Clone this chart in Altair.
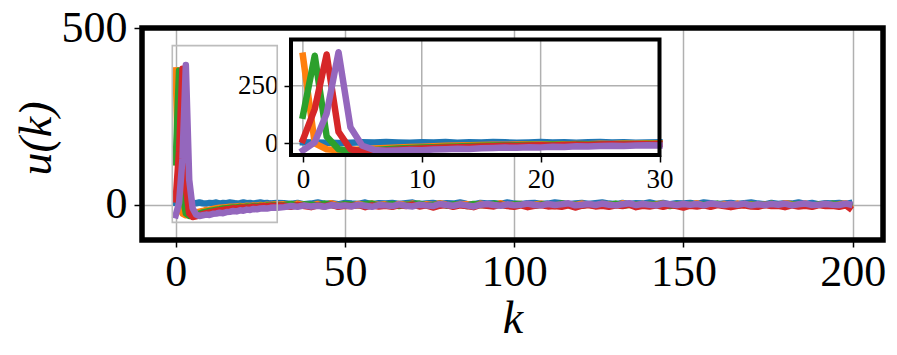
import altair as alt
import pandas as pd

# ---------------- data ----------------
K = list(range(0, 31)) + list(range(32, 199, 2)) + [199]

NAMES = ["blue", "orange", "green", "red", "purple"]
COLORS = ["#1f77b4", "#ff7f0e", "#2ca02c", "#d62728", "#9467bd"]

U_BLUE = [5, 4, 3, 2, 3, 5, 4, 6, 4, 3, 5, 4, 6, 3, 5, 4, 6, 5, 3, 4,
          6, 4, 5, 3, 5, 6, 4, 5, 3, 4, 5,
          4, 2, 5, 1, 3, 6, 2, 4, 1, 5, 3, 2, 6, 1, 4, 3, 5, 2, 4, 6,
          1, 3, 5, 2, 4, 3, 6, 2, 1, 5, 3, 4, 2, 6, 3, 1, 4, 5, 2, 3,
          6, 4, 1, 3, 5, 2, 4, 6, 3, 1, 5, 2, 4, 3, 6, 2, 5, 1, 4, 3,
          5, 2, 6, 4, 1, 3, 5, 2, 4, 6, 3, 1, 5, 2, 4, 3, 6, 2, 5, 1,
          4, 3, 5, 2, 4]
U_ORANGE = [380, 0, -25, -30, -28, -25, -22, -20, -18, -15, -14, -12, -10, -9, -8, -7,
            -6, -6, -5, -4, -5, -3, -4, -2, -3, -1, -2, 0, -1, 1, 0,
            1, -2, 3, 0, -3, 2, -1, 4, -2, 1, -3, 2, 0, 3, -1, 1, -4, 2, 0, 3,
            -2, 1, -1, 4, 0, -3, 2, 1, -2, 3, 0, -1, 4, -3, 1, 2, -2, 0, 3, -1,
            -4, 1, 2, -1, 3, 0, -3, 2, 1, -2, 4, -1, 0, 2, -3, 1, 3, -2, 0, 2,
            -1, 4, -3, 1, 0, 2, -2, 3, -1, 1, -3, 0, 2, -2, 4, 1, -1, 3, -4, 0,
            2, -2, 1, 3, -5]
U_GREEN = [120, 380, 30, -25, -32, -30, -28, -25, -22, -20, -18, -16, -14, -13, -11, -10,
           -9, -8, -8, -6, -7, -5, -6, -4, -5, -3, -4, -2, -3, -1, -2,
           -1, 2, -3, 1, 0, -2, 3, -1, -4, 2, 0, -2, 1, 3, -3, -1, 2, -4, 0, 1,
           3, -2, -1, 2, -3, 1, 0, -4, 2, -1, -2, 3, 0, -3, 1, 2, -1, -3, 1, 0,
           -2, 4, -1, 0, -3, 1, -2, 2, -1, 3, -3, 0, 1, -2, 2, -1, 3, -4, 1, 0,
           2, -3, 0, -1, 3, -2, 1, -3, 2, 0, 1, -1, 3, -2, -4, 0, 2, -1, -3, 1,
           -2, 3, -1, 0, -2]
U_RED = [15, 150, 385, 50, -25, -35, -33, -30, -27, -24, -22, -20, -18, -16, -15, -13,
         -12, -10, -11, -9, -8, -9, -7, -6, -7, -5, -4, -5, -3, -4, -2,
         -3, -6, -1, -4, -7, -2, -5, 0, -6, -3, -4, -1, -7, -2, -5, -3, -6, -1, -4, 0,
         -5, -2, -8, -3, -1, -6, -2, -4, -7, -1, -3, -5, 0, -4, -6, -2, -7, -3, -1, -5,
         -4, -6, -2, -8, -3, -1, -5, -3, -6, -2, -4, 0, -7, -3, -5, -2, -6, -1, -4, -8,
         -3, -5, -2, -6, -1, -4, -7, -3, -2, -5, -6, -1, -4, -3, -7, -2, -5, -3, -6, -1,
         -4, -3, -6, -2, -9]
U_PURPLE = [-30, 5, 130, 395, 70, -10, -28, -32, -30, -28, -29, -26, -25, -23, -24, -21,
            -20, -18, -19, -16, -17, -14, -15, -12, -13, -11, -10, -11, -9, -8, -9,
            -7, -4, -6, -2, -5, -3, -6, -1, -4, -2, -5, 0, -3, -6, -1, -2, -4, 1, -3, -5,
            0, -2, -4, 2, -1, -3, 1, -2, -5, 0, 2, -1, -3, 1, -2, 0, 3, -1, -2, 2,
            -1, 1, 4, -2, 0, 2, -1, 3, 0, -2, 1, 4, -1, 2, 0, -2, 3, 1, -1, 2,
            0, 2, -2, 3, 1, -1, 2, 0, 3, -2, 1, -1, 2, 0, 3, -2, 1, 3, -1, 0,
            2, 0, -1, 3, 1]

SERIES = [U_BLUE, U_ORANGE, U_GREEN, U_RED, U_PURPLE]

XLIM = [-9.95, 208.95]
YLIM = [-100, 500]
XTICKS = [0, 50, 100, 150, 200]
YTICKS = [0, 500]

XLIM_IN = [-1, 30]
YLIM_IN = [-50, 450]
XTICKS_IN = [0, 10, 20, 30]
YTICKS_IN = [0, 250]

FONT = "Liberation Serif, DejaVu Serif, serif"
GRID = "#b0b0b0"
LW = 6.5

# ---------------- main axes ----------------
xs_main = alt.Scale(domain=XLIM, nice=False, zero=False)
ys_main = alt.Scale(domain=YLIM, nice=False, zero=False)

ax_main_x = alt.Axis(values=XTICKS, grid=True, gridColor=GRID, gridWidth=1.5,
                     domain=False, tickSize=7, tickWidth=1.5, tickColor="black",
                     labelFont=FONT, labelFontSize=44, labelColor="black",
                     labelPadding=3, labelFlush=False, labelOverlap=False,
                     title="k", titleFont=FONT, titleFontSize=46,
                     titleFontStyle="italic", titleFontWeight="normal",
                     titleColor="black", titleY=92, titleBaseline="alphabetic")
ax_main_y = alt.Axis(values=YTICKS, grid=True, gridColor=GRID, gridWidth=1.5,
                     domain=False, tickSize=8, tickWidth=1.5, tickColor="black",
                     labelFont=FONT, labelFontSize=44, labelColor="black",
                     labelPadding=7, labelFlush=False, labelOverlap=False,
                     title="u(k)", titleFont=FONT, titleFontSize=46,
                     titleFontStyle="italic", titleFontWeight="normal",
                     titleColor="black", titleX=-92, titleY=110,
                     titleAngle=270, titleAlign="center", titleBaseline="alphabetic")

main_layers = []
for name, col, vals in zip(NAMES, COLORS, SERIES):
    d = pd.DataFrame({"k": K, "u": vals})
    main_layers.append(
        alt.Chart(d).mark_line(color=col, strokeWidth=LW, clip=True,
                               strokeJoin="round", strokeCap="square").encode(
            x=alt.X("k:Q", scale=xs_main, axis=ax_main_x),
            y=alt.Y("u:Q", scale=ys_main, axis=ax_main_y),
        )
    )

box_df = pd.DataFrame({"x": [XLIM_IN[0]], "x2": [XLIM_IN[1]],
                       "y": [YLIM_IN[0]], "y2": [YLIM_IN[1]]})
indicate = alt.Chart(box_df).mark_rect(fill=None, fillOpacity=0, stroke="#bdbdbd",
                                       strokeWidth=1.6).encode(
    x=alt.X("x:Q", scale=xs_main, axis=ax_main_x), x2="x2:Q",
    y=alt.Y("y:Q", scale=ys_main, axis=ax_main_y), y2="y2:Q")

frame_df = pd.DataFrame({"x": [XLIM[0]], "x2": [XLIM[1]], "y": [YLIM[0]], "y2": [YLIM[1]]})
frame = alt.Chart(frame_df).mark_rect(fill=None, fillOpacity=0, stroke="black",
                                      strokeWidth=5.5).encode(
    x=alt.X("x:Q", scale=xs_main, axis=ax_main_x), x2="x2:Q",
    y=alt.Y("y:Q", scale=ys_main, axis=ax_main_y), y2="y2:Q")

main = alt.layer(*main_layers, indicate, frame)

# ---------------- inset axes ----------------
xs_in = alt.Scale(domain=XLIM_IN, range=[149, 517.5], nice=False, zero=False)
ys_in = alt.Scale(domain=YLIM_IN, range=[127, 11.5], nice=False, zero=False)

ax_in_x = alt.Axis(orient="bottom", offset=-85, values=XTICKS_IN, grid=False,
                   domain=False, tickSize=7, tickWidth=1.5, tickColor="black",
                   labelFont=FONT, labelFontSize=27, labelColor="black",
                   labelPadding=4, labelFlush=False, labelOverlap=False, title=None)
ax_in_y = alt.Axis(orient="left", offset=-149, values=YTICKS_IN, grid=False,
                   domain=False, tickSize=7, tickWidth=1.5, tickColor="black",
                   labelFont=FONT, labelFontSize=27, labelColor="black",
                   labelPadding=6, labelFlush=False, labelOverlap=False, title=None)

in_bg = alt.Chart(box_df).mark_rect(fill="white", stroke=None).encode(
    x=alt.X("x:Q", scale=xs_in, axis=ax_in_x), x2="x2:Q",
    y=alt.Y("y:Q", scale=ys_in, axis=ax_in_y), y2="y2:Q")

gx_df = pd.DataFrame({"v": XTICKS_IN, "lo": YLIM_IN[0], "hi": YLIM_IN[1]})
gy_df = pd.DataFrame({"v": YTICKS_IN, "lo": XLIM_IN[0], "hi": XLIM_IN[1]})
in_gx = alt.Chart(gx_df).mark_rule(color=GRID, strokeWidth=1.5).encode(
    x=alt.X("v:Q", scale=xs_in, axis=ax_in_x),
    y=alt.Y("lo:Q", scale=ys_in, axis=ax_in_y), y2="hi:Q")
in_gy = alt.Chart(gy_df).mark_rule(color=GRID, strokeWidth=1.5).encode(
    y=alt.Y("v:Q", scale=ys_in, axis=ax_in_y),
    x=alt.X("lo:Q", scale=xs_in, axis=ax_in_x), x2="hi:Q")

in_lines = []
for name, col, vals in zip(NAMES, COLORS, SERIES):
    kk = [k for k in K if k <= XLIM_IN[1]]
    d = pd.DataFrame({"k": kk, "u": vals[:len(kk)]})
    in_lines.append(
        alt.Chart(d).mark_line(color=col, strokeWidth=LW,
                               strokeJoin="round", strokeCap="square").encode(
            x=alt.X("k:Q", scale=xs_in, axis=ax_in_x),
            y=alt.Y("u:Q", scale=ys_in, axis=ax_in_y),
        )
    )

in_frame = alt.Chart(box_df).mark_rect(fill=None, fillOpacity=0, stroke="black",
                                       strokeWidth=4).encode(
    x=alt.X("x:Q", scale=xs_in, axis=ax_in_x), x2="x2:Q",
    y=alt.Y("y:Q", scale=ys_in, axis=ax_in_y), y2="y2:Q")

inset = alt.layer(in_bg, in_gx, in_gy, *in_lines, in_frame)

chart = alt.layer(main, inset).resolve_scale(
    x="independent", y="independent").resolve_axis(
    x="independent", y="independent").properties(
    width=741, height=212,
    padding={"left": 134, "top": 20, "right": 6, "bottom": 107},
    autosize=alt.AutoSizeParams(type="none"),
    background="white",
).configure_view(stroke=None)

chart.save("out.html", embed_options={"renderer": "svg", "actions": False})
